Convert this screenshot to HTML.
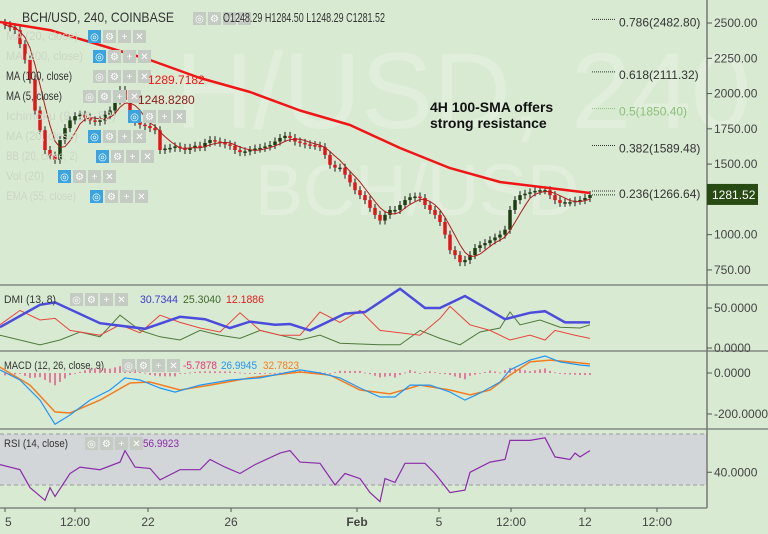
<!DOCTYPE html>
<html><head><meta charset="utf-8">
<style>
html,body{margin:0;padding:0;background:#d9ead3;}
#wrap{position:relative;width:768px;height:534px;overflow:hidden;background:#d9ead3;font-family:"Liberation Sans",sans-serif;}
svg text{font-family:"Liberation Sans",sans-serif;}
</style></head>
<body>
<div id="wrap">
<svg id="chart" width="768" height="534" xmlns="http://www.w3.org/2000/svg">
  <rect x="0" y="0" width="768" height="534" fill="#d9ead3"/>
  <g fill="#ffffff" opacity="0.2">
    <text x="175" y="128" font-size="108">H/USD, 240</text>
    <text x="255" y="215" font-size="72">BCH/USD</text>
  </g>
  <g id="main"></g>
  <g id="dmi"></g>
  <g id="macd"></g>
  <g id="rsi"></g>
  <g id="axes"></g>
  <g id="legend"></g>
</svg>
</div>
<script>
// ---- data ----
const closes = [2485,2470,2450,2350,2240,2100,1880,1740,1600,1560,1530,1670,1755,1810,1840,1850,1830,1810,1800,1810,1850,1880,1950,2025,1955,1850,1800,1780,1770,1755,1740,1600,1610,1615,1625,1615,1600,1615,1630,1620,1650,1670,1660,1650,1640,1630,1600,1585,1590,1600,1610,1615,1625,1635,1660,1685,1700,1685,1660,1650,1640,1635,1630,1620,1565,1495,1475,1475,1425,1370,1315,1280,1245,1190,1140,1100,1140,1175,1175,1210,1245,1265,1270,1260,1210,1175,1140,1090,1000,890,855,805,820,855,905,925,940,960,980,1000,1035,1175,1245,1280,1290,1300,1310,1315,1315,1280,1245,1225,1230,1230,1240,1245,1260,1281];
const smaIdx = [-1,9,19,29,39,49,59,69,79,89,99,109,117];
const smaVal = [2507,2450,2344,2238,2110,2011,1880,1777,1614,1472,1373,1330,1295];
const priceTicks = [2500,2250,2000,1750,1500,1250,1000,750];
const priceTickLabels = ["2500.00","2250.00","2000.00","1750.00","1500.00","","1000.00","750.00"];
const fibLevels = [2482.80,2111.32,1850.40,1589.48,1266.64];
const fibRatios = ["0.786","0.618","0.5","0.382","0.236"];
const lastPrice = 1281.52;

const adxIdx = [-1,7,10,19,28,35,40,45,49,54,57,61,68,72,79,84,87,92,100,105,108,112,117];
const adxVal = [26,54,57,31,24,39,36,25,33,29,30,22,43,45,74,50,50,65,36,44,46,32,32];
const pdiIdx = [-1,3,7,10,13,19,23,27,31,35,39,43,47,51,55,59,63,67,71,75,83,87,89,93,97,101,105,108,110,114,117];
const pdiVal = [29,47,35,37,22,16,29,19,41,32,25,20,44,22,16,16,45,32,47,22,16,37,52,29,22,10,16,10,22,16,12];
const mdiIdx = [-1,7,11,15,19,23,27,31,35,39,43,47,51,55,59,63,67,75,79,83,87,91,95,99,101,103,107,111,115,117];
const mdiVal = [16,4,10,20,14,41,22,14,10,22,16,12,22,16,10,16,6,4,4,22,12,4,20,25,45,29,35,26,25,29];

const macdIdx = [-1,3,7,10,13,17,21,24,27,31,34,39,45,51,59,63,67,71,75,78,81,85,89,92,95,99,101,105,108,111,115,117];
const macdVal = [15,-34,-132,-250,-205,-132,-83,-24,-34,-73,-93,-59,-34,-24,15,0,-24,-73,-117,-117,-59,-59,-93,-132,-98,-44,15,63,83,54,39,34];
const sigIdx = [-1,5,10,13,19,25,29,35,41,49,59,65,71,77,83,89,93,97,101,105,109,113,117];
const sigVal = [29,-59,-190,-195,-132,-49,-44,-83,-59,-24,5,-10,-83,-102,-59,-83,-107,-83,-10,54,63,54,44];

const rsiIdx = [-1,3,5,8,9,10,13,15,19,23,24,26,29,31,35,39,41,44,47,50,55,57,59,63,66,68,71,73,75,76,78,80,84,86,89,92,93,97,100,101,105,108,110,113,114,115,117];
const rsiVal = [46,42,28,18,28,21,39,44,42,48,57,44,43,34,42,42,50,44,39,46,55,57,48,47,30,39,35,24,17,35,32,47,47,39,24,26,40,48,50,65,65,67,52,50,55,52,57];

const timeLabels = ["5","12:00","22","26","Feb","5","12:00","12","12:00"];
const timeLabelIdx = [0,14,28.6,45.2,70.4,86.8,101.2,116,130.4];

// ---- scales ----
const NS="http://www.w3.org/2000/svg";
const xS = i => 5 + i*5;
const yP = p => 23 + (2500-p)*0.1411;
const yD = v => 348 - v*0.8;
const yM = v => 373 - v*0.205;
const yR = v => 485 - (v-30)*1.275;
function mk(tag, attrs, parent){const e=document.createElementNS(NS,tag);for(const k in attrs)e.setAttribute(k,attrs[k]);parent.appendChild(e);return e;}
function interp(idx, val, i){ if(i<=idx[0])return val[0]; for(let k=1;k<idx.length;k++){ if(i<=idx[k]){const t=(i-idx[k-1])/(idx[k]-idx[k-1]);return val[k-1]+t*(val[k]-val[k-1]);}} return val[val.length-1];}
function poly(idx,val,ys){return idx.map((d,k)=>xS(d).toFixed(1)+","+ys(val[k]).toFixed(1)).join(" ");}

const main=document.getElementById('main'), dmi=document.getElementById('dmi'), macd=document.getElementById('macd'), rsi=document.getElementById('rsi'), axes=document.getElementById('axes'), legend=document.getElementById('legend');

// fib levels
fibLevels.forEach((lv,k)=>{
  const y=yP(lv); const col = fibRatios[k]==="0.5" ? "#8cc07a" : "#333";
  const l=mk('line',{x1:592,x2:616,y1:y-6,y2:y-6,stroke:col,'stroke-dasharray':'1,1','stroke-width':1},main);
  
  
  const t=mk('text',{x:619,y:y+1,'font-size':12,fill:col},main);
  t.textContent=fibRatios[k]+"("+lv.toFixed(2)+")";
  
  
});
// candles
closes.forEach((c,i)=>{
  const o = i===0 ? 2500 : closes[i-1];
  const x=xS(i), yo=yP(o), yc=yP(c);
  const up=c>=o; const col= up ? "#1f3d12" : "#e0161b";
  const top=Math.min(yo,yc), bot=Math.max(yo,yc);
  const w=mk('line',{x1:x,x2:x,y1:top-4,y2:bot+4,stroke:"#1a1a1a",'stroke-width':1},main);
  
  
  const b=mk('rect',{x:x-1.75,y:top,width:3.5,height:Math.max(1.5,bot-top),fill:col},main);
  
  
});
// MA5
const ma5=closes.map((c,i)=>{const s=closes.slice(Math.max(0,i-4),i+1);return s.reduce((a,b)=>a+b,0)/s.length;});
const ma5l=mk('polyline',{points:ma5.map((v,i)=>xS(i)+","+yP(v).toFixed(1)).join(" "),fill:"none",stroke:"#b21a1a",'stroke-width':1},main);


// SMA100
const sma=mk('polyline',{points:poly(smaIdx,smaVal,yP),fill:"none",stroke:"#f01616",'stroke-width':2.5,'stroke-linejoin':'round'},main);


// last price dotted
const lp=mk('line',{x1:592,x2:616,y1:yP(lastPrice),y2:yP(lastPrice),stroke:"#333",'stroke-dasharray':'1,1'},main);


// annotation
const an=mk('text',{x:430,y:112,'font-size':14,'font-weight':'bold',fill:"#111"},main);
an.textContent="4H 100-SMA offers";


const an2=mk('text',{x:430,y:128,'font-size':14,'font-weight':'bold',fill:"#111"},main);
an2.textContent="strong resistance";



// DMI
[[mdiIdx,mdiVal,"#4d7a3a",1,'minus-di-line'],[pdiIdx,pdiVal,"#e8453c",1,'plus-di-line'],[adxIdx,adxVal,"#4b4bdc",2.5,'adx-line']].forEach(s=>{
  const p=mk('polyline',{points:poly(s[0],s[1],yD),fill:"none",stroke:s[2],'stroke-width':s[3]},dmi);
  
  
});
// MACD histogram
for(let i=0;i<=117;i++){
  const h=interp(macdIdx,macdVal,i)-interp(sigIdx,sigVal,i);
  const y0=yM(0), y1=yM(h);
  const r=mk('rect',{x:xS(i)-0.6,y:Math.min(y0,y1),width:1.2,height:Math.max(0.8,Math.abs(y1-y0)),fill:"#e8327a"},macd);
  
  
}
const sigL=mk('polyline',{points:poly(sigIdx,sigVal,yM),fill:"none",stroke:"#f57c1f",'stroke-width':1.5},macd);


const macL=mk('polyline',{points:poly(macdIdx,macdVal,yM),fill:"none",stroke:"#2196f3",'stroke-width':1.2},macd);


// RSI
const band=mk('rect',{x:0,y:yR(70),width:707,height:yR(30)-yR(70),fill:"#d3d6d9"},rsi);


[70,30].forEach(v=>{const l=mk('line',{x1:0,x2:707,y1:yR(v),y2:yR(v),stroke:"#9a9a9a",'stroke-dasharray':'4,3'},rsi);
  
  });
const rl=mk('polyline',{points:poly(rsiIdx,rsiVal,yR),fill:"none",stroke:"#8a2ba8",'stroke-width':1.2},rsi);



// axes & separators
[285,351,429].forEach(y=>{const l=mk('line',{x1:0,x2:768,y1:y,y2:y,stroke:"#555",'stroke-width':1},axes);
  
  });
const bl=mk('line',{x1:0,x2:707,y1:508,y2:508,stroke:"#555"},axes);


const vl=mk('line',{x1:707,x2:707,y1:0,y2:508,stroke:"#777",'stroke-width':1.5},axes);


function ytick(y,label,name){
  const t=mk('line',{x1:707,x2:712,y1:y,y2:y,stroke:"#555"},axes);
  
  
  if(label){const tx=mk('text',{x:714,y:y+4,'font-size':12,fill:"#444"},axes);tx.textContent=label;
  
  }
}
priceTicks.forEach((p,k)=>ytick(yP(p),priceTickLabels[k],'price-axis'));
ytick(yD(50),"50.0000",'dmi-axis'); ytick(yD(0),"0.0000",'dmi-axis');
ytick(yM(0),"0.0000",'macd-axis'); ytick(yM(-200),"-200.0000",'macd-axis');
ytick(yR(40),"40.0000",'rsi-axis');
const pb=mk('rect',{x:707,y:yP(lastPrice)-11,width:51,height:21,fill:"#284a13"},axes);


const pt=mk('text',{x:712,y:yP(lastPrice)+4,'font-size':12,fill:"#fff"},axes);
pt.textContent=lastPrice.toFixed(2);


timeLabels.forEach((lab,k)=>{
  const x=xS(timeLabelIdx[k]);
  const t=mk('line',{x1:x,x2:x,y1:508,y2:512,stroke:"#555"},axes);
  
  
  const tx=mk('text',{x:x,y:526,'font-size':12,fill:"#444",'text-anchor':k===0?'start':'middle','font-weight':lab==="Feb"?'bold':'normal'},axes);
  tx.textContent=lab;
  
  
});

// legends
function icons(x,y,first){
  for(let k=0;k<4;k++){
    const r=mk('rect',{x:x+k*15,y:y-10,width:13,height:13,fill:(k===0&&first)?"#3aa3e0":"#c4cbc2"},legend);
    
    
    const t=mk('text',{x:x+k*15+6.5,y:y,'font-size':10,fill:"#fff",'text-anchor':'middle'},legend);
    t.textContent=["◎","⚙","+","✕"][k];
    
    
  }
}
function ltext(x,y,s,col,name,size,len){const a={x:x,y:y,'font-size':size||12,fill:col};if(len){a.textLength=len;a.lengthAdjust='spacingAndGlyphs';}
  const t=mk('text',a,legend);t.textContent=s;
  
  return t;}
ltext(22,22,"BCH/USD, 240, COINBASE","#333","symbol-title",14,152);
icons(193,22,false);
ltext(223,22,"O1248.29  H1284.50  L1248.29  C1281.52","#333","ohlc-values",13,162);
const rows=[["MA (20, close)",40,88,true,"#c9d6c4",72],["MA (200, close)",60,93,true,"#c9d6c4",77],["MA (100, close)",80,93,false,"#333",66],["MA (5, close)",100,83,false,"#333",56],["Ichimoku (9, 26, 52)",120,128,true,"#c9d6c4",110],["MA (20, close)",140,88,true,"#c9d6c4",72],["BB (20, close, 2)",160,96,true,"#c9d6c4",72],["Vol (20)",180,58,true,"#c9d6c4",38],["EMA (55, close)",200,90,true,"#c9d6c4",70]];
rows.forEach(r=>{ltext(6,r[1],r[0],r[4],"indicator-legend",12,r[5]); icons(r[2],r[1],r[3]);});
ltext(148,84,"1289.7182","#f01616","sma100-value",12);
ltext(138,104,"1248.8280","#8b1a1a","ma5-value",12);
ltext(4,303,"DMI (13, 8)","#333","dmi-legend",11,52); icons(70,303,false);
ltext(140,303,"30.7344","#3a3ad0","adx-value",11,38); ltext(183,303,"25.3040","#3d6a2a","minus-di-value",11,38); ltext(226,303,"12.1886","#e02020","plus-di-value",11,38);
ltext(4,369,"MACD (12, 26, close, 9)","#333","macd-legend",11,100); icons(122,369,false);
ltext(183,369,"-5.7878","#e8327a","macd-hist-value",11,34); ltext(221,369,"26.9945","#2196f3","macd-value",11,36); ltext(263,369,"32.7823","#f57c1f","signal-value",11,36);
ltext(4,447,"RSI (14, close)","#333","rsi-legend",11,64); icons(85,447,false);
ltext(143,447,"56.9923","#8a2ba8","rsi-value",11,36);
</script>
</body></html>
